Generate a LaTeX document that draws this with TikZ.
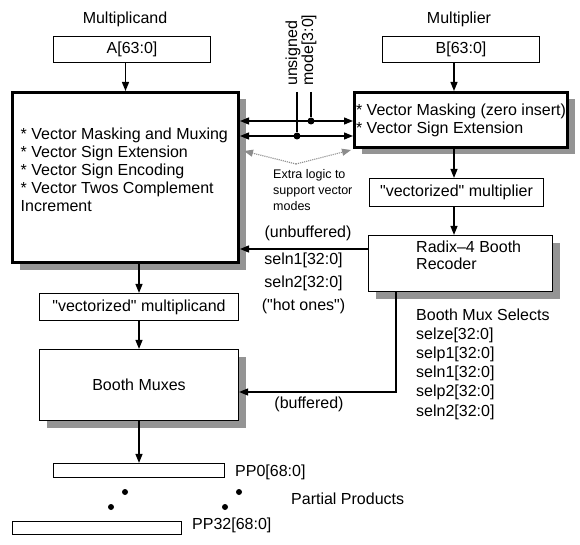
\documentclass[tikz,border=0pt]{standalone}
\usepackage{fontspec}
\setmainfont{Liberation Sans}[Ligatures=TeXOff]
\usetikzlibrary{arrows.meta,shadows}

\begin{document}
\begin{tikzpicture}[x=1pt,y=-1pt,font=\fontsize{16}{18}\selectfont,
  block/.style={draw,line width=1.2pt,fill=white,inner sep=2pt},
  heavy/.style={draw,line width=3pt,fill=white,inner sep=1pt,
    drop shadow={shadow xshift=7pt,shadow yshift=-7pt,fill=black!42,opacity=1}},
  shaded/.style={block,drop shadow={shadow xshift=7pt,shadow yshift=-7pt,fill=black!42,opacity=1}},
  txt/.style={inner sep=0pt,align=left},
  arr/.style={line width=1.3pt,-{Triangle[length=9pt,width=7pt]}},
  dbl/.style={line width=1.3pt,{Triangle[length=9pt,width=7pt]}-{Triangle[length=9pt,width=7pt]}},
  hint/.style={densely dotted,line width=1.1pt,black!45,-{Triangle[length=9pt,width=7pt]}},
  dot/.style={circle,fill=black,inner sep=0pt,minimum size=7pt}]
\def\xL{139}
\def\xR{454}
\def\xB{396}
\useasboundingbox (0,0) rectangle (580,545);

\coordinate (cL) at (\xL,0);
\coordinate (cR) at (\xR,0);
\coordinate (cS) at (0,249);
\coordinate (cB) at (\xB,392);

\path
(125,19) node (mcand) {Multiplicand}
(459,19) node (mplier) {Multiplier}
(132,49.5) node[block,minimum width=157pt,minimum height=26pt] (A) {A[63:0]}
(461,49.5) node[block,minimum width=157pt,minimum height=26pt] (B) {B[63:0]}
(125.5,177.5) node[heavy,minimum width=226pt,minimum height=170pt] (mix) {}
(20.5,170) node[txt,anchor=west] (mixtxt) {* Vector Masking and Muxing\\* Vector Sign Extension\\* Vector Sign Encoding\\* Vector Twos Complement\\Increment}
(461,120) node[heavy,minimum width=213pt,minimum height=55pt,align=left] (msk) {* Vector Masking (zero insert)\\* Vector Sign Extension}
(456.5,192.5) node[block,minimum width=174pt,minimum height=28pt] (vmul) {"vectorized" multiplier}
(460.5,263.5) node[shaded,minimum width=184pt,minimum height=56pt] (rdx) {}
(416,255.5) node[txt,anchor=west,font=\fontsize{16}{17}\selectfont] (rdxtxt) {Radix–4 Booth\\Recoder}
(139,307) node[block,minimum width=199pt,minimum height=27pt] (vmcd) {"vectorized" multiplicand}
(139,385) node[shaded,minimum width=199pt,minimum height=71pt] (mux) {Booth Muxes}
(139,470.5) node[block,minimum width=171pt,minimum height=14pt] (pp0) {}
(97,528) node[block,minimum width=169pt,minimum height=13pt] (pp32) {}
;

% labels
\path
(301,86) node[txt,rotate=90,anchor=west,font=\fontsize{16}{14}\selectfont] (modelbl) {unsigned\\mode[3:0]}
(273,169) node[txt,anchor=north west,font=\fontsize{12.5}{16}\selectfont] (xlogic) {Extra logic to\\support vector\\modes}
(308,233) node (unbuf) {(unbuffered)}
(303.5,283) node[align=center,font=\fontsize{16}{23}\selectfont] (selns) {seln1[32:0]\\seln2[32:0]\\("hot ones")}
(309,404) node (buf) {(buffered)}
(416,364) node[txt,anchor=west,font=\fontsize{16}{19.2}\selectfont] (bmsel) {Booth Mux Selects\\ selze[32:0]\\ selp1[32:0]\\ seln1[32:0]\\ selp2[32:0]\\ seln2[32:0]}
(235,472) node[txt,anchor=west] (pp0lbl) {PP0[68:0]}
(192,525) node[txt,anchor=west] (pp32lbl) {PP32[68:0]}
(291,499) node[txt,anchor=west] (pplbl) {Partial Products}
;

% mode lines
\coordinate (uTop) at (297,92);
\coordinate (mTop) at (311,92);
\path
(311,121) node[dot] (dM) {}
(297,136) node[dot] (dU) {}
(125,492) node[dot,minimum size=6pt] (pd1) {}
(111,507) node[dot,minimum size=6pt] (pd2) {}
(239,492) node[dot,minimum size=6pt] (pd3) {}
(225,507) node[dot,minimum size=6pt] (pd4) {}
;
\draw[line width=1.3pt] (mTop) -- (dM);
\draw[line width=1.3pt] (uTop) -- (dU);
\draw[dbl] (mix.east |- dM) -- (msk.west |- dM);
\draw[dbl] (mix.east |- dU) -- (msk.west |- dU);

% extra logic hints
\coordinate (apex) at (296,164);
\coordinate (hintL) at (244,151);
\coordinate (hintR) at (351,150);
\draw[hint] (apex) -- (hintL);
\draw[hint] (apex) -- (hintR);

% data flow
\draw[arr] (A.south -| mix.north) -- (mix.north);
\draw[arr] (B.south -| cR) -- (msk.north -| cR);
\draw[arr] (msk.south -| cR) -- (vmul.north -| cR);
\draw[arr] (vmul.south -| cR) -- (rdx.north -| cR);
\draw[arr] (rdx.west |- cS) -- (mix.east |- cS);
\draw[arr] (rdx.south -| cB) |- (mux.east |- cB);
\draw[arr] (mix.south -| cL) -- (vmcd.north);
\draw[arr] (vmcd) -- (mux);
\draw[arr] (mux) -- (pp0);

\end{tikzpicture}
\end{document}
